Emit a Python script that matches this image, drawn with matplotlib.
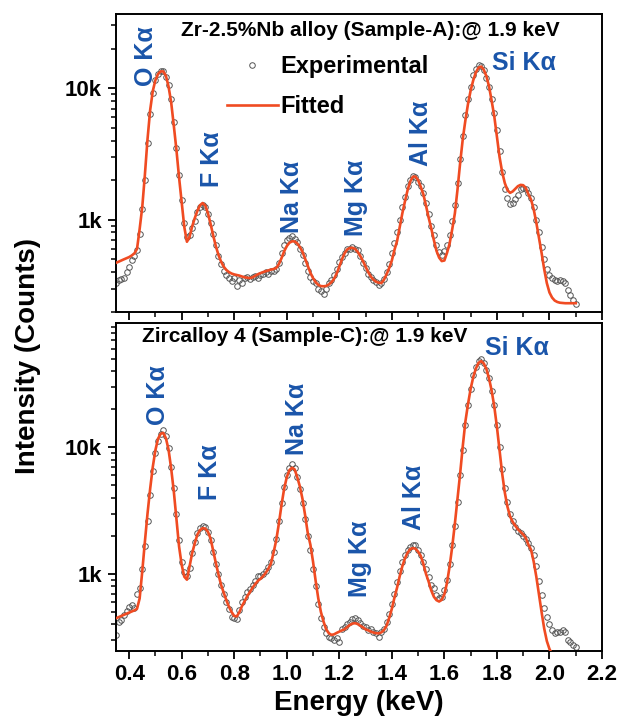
import numpy as np
import matplotlib
matplotlib.use("Agg")
import matplotlib.pyplot as plt
from matplotlib.ticker import FixedLocator, FixedFormatter, LogLocator, NullFormatter, MultipleLocator

plt.rcParams['font.family'] = ['Liberation Sans', 'DejaVu Sans']
plt.rcParams['font.weight'] = 'bold'

# ---------------- data ----------------
energy = np.round(np.arange(0.35, 2.1001, 0.01), 2)   # keV, channel grid

# Sample-A (Zr-2.5%Nb) experimental counts
exp_A = [
    330, 350, 355, 360, 400, 440, 490, 530, 590, 780,
    1200, 2000, 3800, 6400, 9200, 11500, 12700, 13600, 13500, 12100,
    10500, 8200, 5500, 3500, 2200, 1400, 950, 740, 760, 860,
    980, 1150, 1250, 1300, 1250, 1100, 940, 780, 640, 530,
    460, 410, 380, 360, 345, 360, 315, 350, 330, 360,
    370, 355, 365, 375, 360, 380, 385, 400, 385, 405,
    410, 420, 470, 560, 640, 700, 730, 750, 720, 680,
    600, 540, 470, 410, 370, 340, 330, 300, 285, 275,
    300, 330, 350, 380, 420, 480, 520, 560, 600, 600,
    620, 600, 590, 530, 470, 430, 390, 370, 350, 335,
    320, 330, 355, 400, 460, 560, 660, 800, 1000, 1250,
    1500, 1800, 2000, 2150, 2100, 1950, 1800, 1600, 1350, 1100,
    900, 760, 640, 570, 540, 580, 640, 760, 980, 1300,
    1900, 2900, 4300, 6200, 8200, 10200, 12500, 14000, 15000, 14800,
    13800, 12000, 10200, 8300, 6500, 4800, 3300, 2300, 1700, 1450,
    1320, 1350, 1430, 1550, 1700, 1750, 1700, 1600, 1450, 1250,
    1000, 800, 620, 500, 420, 380, 360, 350, 345, 350,
    340, 330, 290, 270, 245, 230,
]
# Sample-A fitted curve
fit_A = [
    470, 480, 490, 500, 510, 520, 535, 555, 600, 850,
    1250, 2200, 4100, 6800, 9500, 11500, 12800, 13400, 13400, 12400,
    10300, 7800, 5200, 3400, 2100, 1350, 880, 680, 740, 890,
    1030, 1170, 1290, 1340, 1280, 1120, 930, 760, 630, 540,
    480, 440, 415, 400, 390, 384, 380, 376, 370, 365,
    362, 360, 365, 375, 385, 393, 400, 406, 412, 418,
    422, 430, 460, 510, 575, 630, 668, 685, 684, 660,
    620, 570, 505, 445, 395, 360, 335, 320, 313, 312,
    314, 322, 335, 355, 390, 440, 500, 555, 595, 610,
    612, 600, 570, 530, 485, 440, 400, 370, 350, 338,
    332, 330, 350, 385, 430, 490, 590, 690, 880, 1120,
    1380, 1680, 1950, 2120, 2130, 2000, 1780, 1560, 1280, 1040,
    860, 700, 580, 515, 485, 490, 560, 660, 850, 1120,
    1700, 2700, 4100, 5700, 7600, 9600, 11500, 13200, 14300, 14600,
    13800, 12300, 10300, 8000, 6100, 4300, 3000, 2300, 1900, 1680,
    1600, 1640, 1720, 1800, 1840, 1830, 1740, 1560, 1420, 1200,
    950, 730, 560, 420, 330, 280, 256, 243, 237, 234,
    233, 232, 232, 232, 232, 232,
]

# Sample-C (Zircalloy 4) experimental counts
exp_C = [
    330, 420, 430, 470, 510, 550, 570, 540, 690, 780,
    1100, 1650, 2600, 4200, 6500, 9000, 11300, 12800, 13700, 12400,
    9800, 7000, 4800, 3000, 1850, 1250, 1030, 960, 1120, 1450,
    1800, 2100, 2300, 2400, 2350, 2150, 1850, 1500, 1200, 1000,
    820, 700, 600, 530, 460, 445, 440, 520, 600, 660,
    720, 760, 820, 880, 960, 970, 1000, 1060, 1130, 1250,
    1500, 1900, 2600, 3600, 4900, 6100, 6900, 7400, 6900, 5800,
    4700, 3600, 2700, 2000, 1550, 1100, 800, 580, 450, 380,
    340, 320, 310, 300, 310, 290, 370, 380, 400, 420,
    440, 450, 430, 410, 390, 380, 360, 365, 350, 340,
    320, 345, 370, 420, 480, 580, 700, 860, 1050, 1250,
    1420, 1550, 1620, 1680, 1700, 1550, 1400, 1250, 1100, 950,
    820, 770, 680, 650, 660, 750, 900, 1200, 1700, 2400,
    3700, 6000, 9500, 15000, 21500, 29000, 37000, 43000, 48000, 49500,
    46000, 41000, 35000, 28000, 21500, 15000, 10000, 6800, 4800, 3700,
    3000, 2600, 2350, 2200, 2100, 2000, 1900, 1750, 1600, 1400,
    1150, 880, 680, 540, 460, 400, 360, 340, 350, 345,
    360, 345, 300, 290, 275, 265,
]
# Sample-C fitted curve
fit_C = [
    446, 455, 465, 475, 485, 495, 505, 515, 530, 640,
    1050, 1800, 3000, 4700, 7000, 9500, 11700, 12800, 13000, 11800,
    9600, 6800, 4500, 2700, 1650, 1180, 950, 900, 1150, 1460,
    1750, 2050, 2220, 2300, 2280, 2150, 1900, 1520, 1220, 990,
    820, 710, 620, 550, 500, 465, 462, 500, 560, 610,
    670, 720, 780, 830, 880, 915, 960, 1020, 1100, 1210,
    1480, 1850, 2500, 3500, 4700, 5800, 6600, 6900, 6700, 5800,
    4900, 3900, 2900, 2100, 1700, 1250, 880, 640, 500, 420,
    365, 340, 330, 333, 342, 350, 358, 365, 380, 395,
    405, 408, 402, 390, 378, 365, 358, 350, 344, 340,
    339, 345, 360, 390, 450, 530, 650, 780, 960, 1150,
    1330, 1470, 1570, 1600, 1580, 1500, 1390, 1200, 1000, 870,
    740, 660, 620, 605, 625, 690, 850, 1150, 1650, 2500,
    3900, 6200, 10200, 16000, 22000, 29000, 36000, 42000, 46500, 48000,
    46000, 41500, 35000, 28000, 21000, 14500, 9500, 6200, 4400, 3400,
    2850, 2580, 2400, 2250, 2150, 2050, 1920, 1700, 1550, 1250,
    950, 690, 500, 370, 295, 255, 232, 215,
]

titles = ["Zr-2.5%Nb alloy (Sample-A):@ 1.9 keV", "Zircalloy 4 (Sample-C):@ 1.9 keV"]
peak_names = ["O K\u03b1", "F K\u03b1", "Na K\u03b1", "Mg K\u03b1", "Al K\u03b1", "Si K\u03b1"]
ytick_vals = [1e3, 1e4]
ytick_labels = ["1k", "10k"]
xtick_vals = [0.4, 0.6, 0.8, 1.0, 1.2, 1.4, 1.6, 1.8, 2.0, 2.2]

# ---------------- layout / style ----------------
label_pos_A = [(0.465, 17400), (0.715, 2860), (1.019, 1500), (1.264, 1460), (1.512, 4500), (1.902, 15500)]
label_pos_C = [(0.510, 26000), (0.708, 6340), (1.039, 16900), (1.279, 1315), (1.486, 4050), (1.875, 61000)]
title_pos = [(0.523, 0.945), (0.389, 0.958)]
ylims = [(200, 36600), (246, 96000)]

BLUE = '#1A55AA'
RED = '#F04B22'

fig = plt.figure(figsize=(6.2, 7.16), dpi=100)
L, R = 116 / 620, 602 / 620
axA = fig.add_axes([L, (716 - 311.7) / 716, R - L, (311.7 - 14) / 716])
axC = fig.add_axes([L, (716 - 651) / 716, R - L, (651 - 323) / 716])

for ax, ex, ft, lim, ttl, tpos, lpos in [
        (axA, exp_A, fit_A, ylims[0], titles[0], title_pos[0], label_pos_A),
        (axC, exp_C, fit_C, ylims[1], titles[1], title_pos[1], label_pos_C)]:
    ax.plot(energy, ex, linestyle='none', marker='o', ms=4.0, mfc='none',
            mec='#555555', mew=0.7, label='Experimental', zorder=2)
    ax.plot(energy[:len(ft)], ft, color=RED, lw=1.9, label='Fitted', zorder=3)
    ax.set_yscale('log')
    ax.set_xlim(0.35, 2.2)
    ax.set_ylim(*lim)
    ax.yaxis.set_major_locator(FixedLocator(ytick_vals))
    ax.yaxis.set_major_formatter(FixedFormatter(ytick_labels))
    ax.yaxis.set_minor_locator(LogLocator(base=10, subs=np.arange(2, 10)))
    ax.yaxis.set_minor_formatter(NullFormatter())
    ax.xaxis.set_major_locator(FixedLocator(xtick_vals))
    ax.xaxis.set_minor_locator(MultipleLocator(0.1))
    ax.tick_params(axis='both', which='major', direction='out', length=6, width=1.3,
                   labelsize=16, pad=3)
    ax.tick_params(axis='y', which='major', pad=4)
    ax.tick_params(axis='both', which='minor', direction='out', length=3.5, width=1.1)
    ax.tick_params(top=False, right=False)
    for s in ax.spines.values():
        s.set_linewidth(1.4)
    for lab in ax.get_yticklabels() + ax.get_xticklabels():
        lab.set_fontweight('bold')
    ax.text(tpos[0], tpos[1], ttl, transform=ax.transAxes, ha='center', va='center',
            fontsize=15, fontweight='bold', color='black')
    for name, (px, py) in zip(peak_names, lpos):
        rot = 0 if name.startswith('Si') else 90
        ax.text(px, py, name, rotation=rot, ha='center', va='center',
                fontsize=18, fontweight='bold', color=BLUE)

axA.tick_params(axis='x', labelbottom=False)
xticklabels = ['%.1f' % v for v in xtick_vals]
axC.set_xticklabels(xticklabels, fontweight='bold')
axC.set_xlabel('Energy (keV)', fontsize=20, fontweight='bold', labelpad=4)

leg = axA.legend(loc='upper left', bbox_to_anchor=(0.228, 0.862), frameon=False,
                 prop={'weight': 'bold', 'size': 17}, handlelength=2.16,
                 handletextpad=0.1, labelspacing=0.72, borderpad=0, borderaxespad=0)

fig.text(28 / 620, 0.503, 'Intensity (Counts)', rotation=90, ha='center', va='center',
         fontsize=20, fontweight='bold')

fig.savefig('out.png', dpi=100)
